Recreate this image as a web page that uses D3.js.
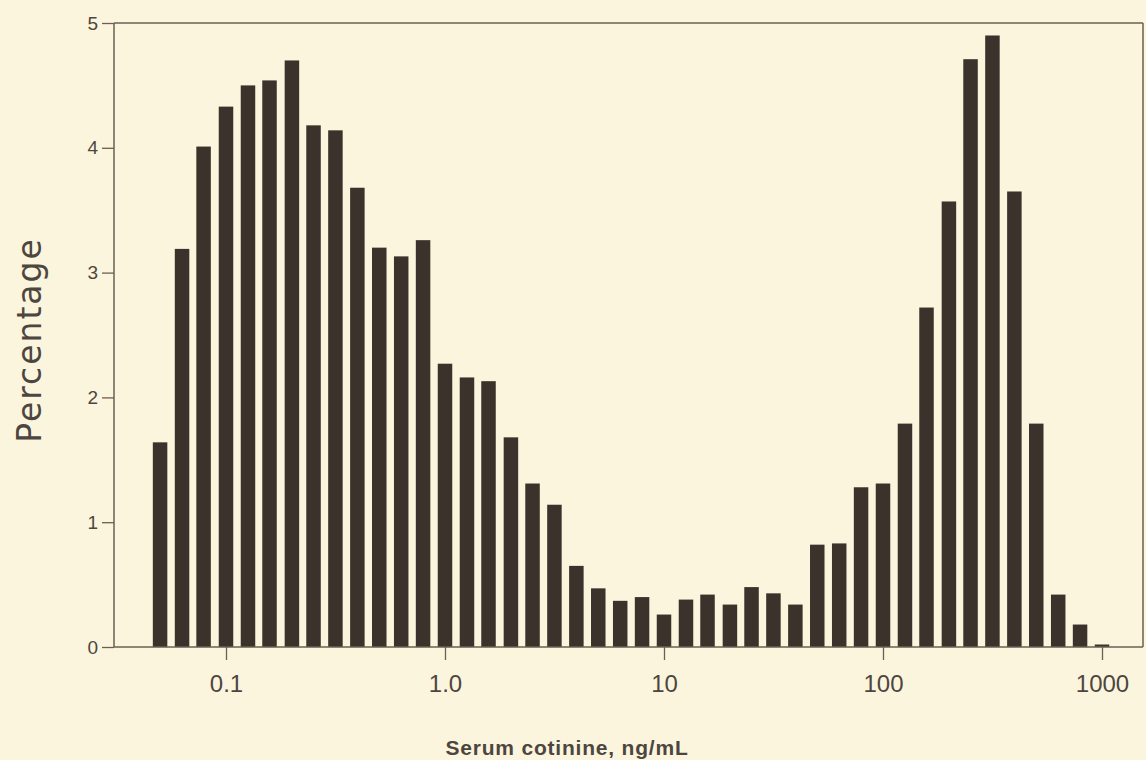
<!DOCTYPE html>
<html>
	<head>
		<meta charset="utf-8">
		<script src="https://d3js.org/d3.v7.min.js"></script>
	</head>
	<body>
		<div id="chart"></div>
	</body>
	<script>
		// bin centres, 10 per decade (ng/mL)
		var bins = [0.05, 0.063, 0.079, 0.1, 0.126, 0.158, 0.2, 0.251, 0.316, 0.398, 0.501, 0.631, 0.794,
			1.0, 1.26, 1.58, 2.0, 2.51, 3.16, 3.98, 5.01, 6.31, 7.94,
			10, 12.6, 15.8, 20, 25.1, 31.6, 39.8, 50.1, 63.1, 79.4,
			100, 126, 158, 200, 251, 316, 398, 501, 631, 794, 1000];
		// percentage in each bin
		var percent = [1.64, 3.19, 4.01, 4.33, 4.50, 4.54, 4.70, 4.18, 4.14, 3.68, 3.20, 3.13, 3.26,
			2.27, 2.16, 2.13, 1.68, 1.31, 1.14, 0.65, 0.47, 0.37, 0.40,
			0.26, 0.38, 0.42, 0.34, 0.48, 0.43, 0.34, 0.82, 0.83, 1.28,
			1.31, 1.79, 2.72, 3.57, 4.71, 4.90, 3.65, 1.79, 0.42, 0.18, 0.02];
		var xTicks = [0.1, 1, 10, 100, 1000];
		var xTickLabels = ["0.1", "1.0", "10", "100", "1000"];
		var yTicks = [0, 1, 2, 3, 4, 5];

		var barColor = '#3b332b';
		var lineColor = '#6c5e52';
		var textColor = '#4d4640';

		// plot box (window.top is reserved, so no "top" here)
		var plotLeft = 114, plotRight = 1143, plotTop = 23, plotBottom = 647;

		var svg = d3.select("#chart").append("svg")
			.attr("width", 1146)
			.attr("height", 760);

		svg.append("rect")
			.attr("width", 1146)
			.attr("height", 760)
			.attr("fill", "#fcf5de");

		var x = d3.scaleLog().domain([0.1, 1000]).range([226, 1102]);
		var y = d3.scaleLinear().domain([0, 5]).range([plotBottom, plotTop]);
		var barWidth = 14.5;

		svg.append("g").selectAll("rect")
			.data(bins)
		  .enter().append("rect")
			.attr("x", function(d) { return x(d) - barWidth / 2; })
			.attr("width", barWidth)
			.attr("y", function(d, i) { return y(percent[i]); })
			.attr("height", function(d, i) { return plotBottom - y(percent[i]); })
			.attr("fill", barColor);

		//frame
		var frame = svg.append("g")
			.attr("stroke", lineColor)
			.attr("stroke-width", 1.5)
			.attr("fill", "none");
		frame.append("line").attr("x1", plotLeft).attr("x2", plotRight).attr("y1", plotTop).attr("y2", plotTop);
		frame.append("line").attr("x1", plotRight).attr("x2", plotRight).attr("y1", plotTop).attr("y2", plotBottom);
		frame.append("line").attr("x1", plotLeft).attr("x2", plotRight).attr("y1", plotBottom).attr("y2", plotBottom);
		frame.append("line").attr("x1", plotLeft).attr("x2", plotLeft).attr("y1", plotTop).attr("y2", plotBottom);

		var yAxis = svg.append("g")
			.attr("transform", "translate(" + plotLeft + ",0)")
			.call(d3.axisLeft(y).tickValues(yTicks).tickFormat(d3.format("d"))
				.tickSize(12).tickPadding(4).tickSizeOuter(0));
		yAxis.select(".domain").remove();
		yAxis.selectAll("line").attr("stroke", lineColor).attr("stroke-width", 1.3);
		yAxis.selectAll("text")
			.attr("fill", textColor)
			.style("font-family", "'Liberation Sans', Arial, sans-serif")
			.style("font-size", "19px");

		var xAxis = svg.append("g")
			.attr("transform", "translate(0," + plotBottom + ")")
			.call(d3.axisBottom(x).tickValues(xTicks)
				.tickFormat(function(d, i) { return xTickLabels[i]; })
				.tickSize(13).tickPadding(15).tickSizeOuter(0));
		xAxis.select(".domain").remove();
		xAxis.selectAll("line").attr("stroke", lineColor).attr("stroke-width", 1.3);
		xAxis.selectAll("text")
			.attr("fill", textColor)
			.style("font-family", "'Liberation Sans', Arial, sans-serif")
			.style("font-size", "24px");

		svg.append("text")
			.attr("transform", "translate(41,340) rotate(-90)")
			.attr("text-anchor", "middle")
			.attr("fill", textColor)
			.style("font-family", "'DejaVu Sans', sans-serif")
			.style("font-size", "33px")
			.style("letter-spacing", "2px")
			.text("Percentage");

		svg.append("text")
			.attr("x", 567)
			.attr("y", 755)
			.attr("text-anchor", "middle")
			.attr("fill", textColor)
			.style("font-family", "'Liberation Sans', Arial, sans-serif")
			.style("font-size", "21px")
			.style("font-weight", "bold")
			.style("letter-spacing", "0.8px")
			.text("Serum cotinine, ng/mL");
	</script>
	<style>
		body {
			margin: 0;
			padding: 0;
			background-color: #fcf5de;
		}
		svg {
			display: block;
		}
	</style>
</html>
